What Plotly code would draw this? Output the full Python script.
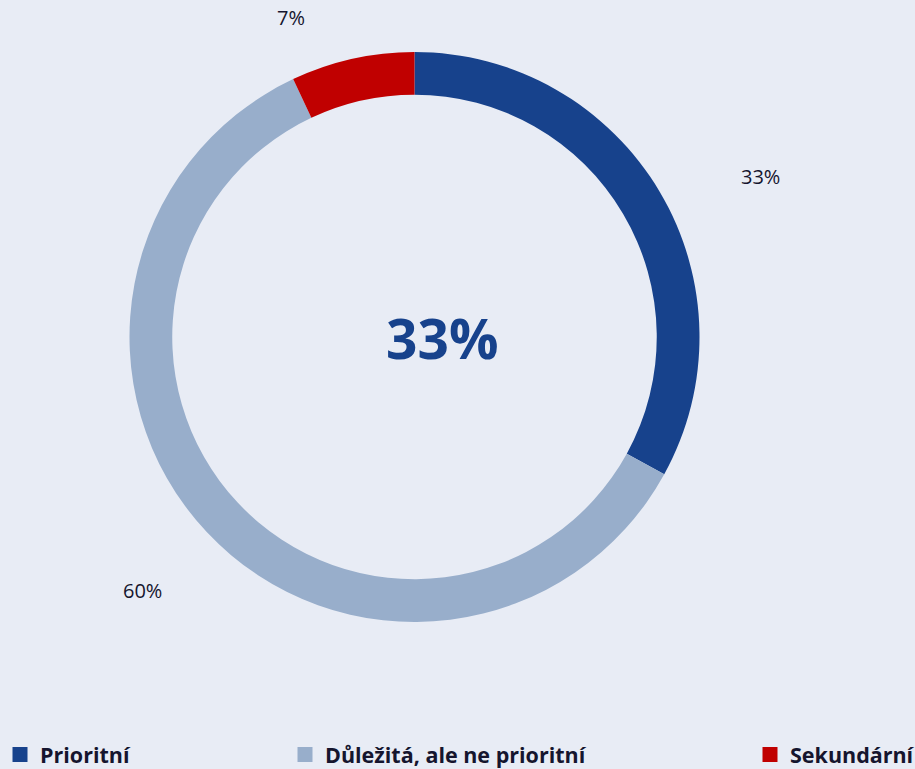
import math
import plotly.graph_objects as go

# Share of respondents by priority category
categories = ["Prioritní", "Důležitá, ale ne prioritní", "Sekundární"]
values = [33, 60, 7]
colors = ["#17428C", "#98AECB", "#C00000"]
center_label = "33%"

# Label placement around the ring: angular nudge (deg) and radius (px)
label_nudge_deg = [6.0, 0.0, -8.7]
label_radius_px = [381, 373, 341]

# Legend swatch centres (px from left)
legend_x_px = [20.0, 305.0, 770.0]

W, H = 915, 769
CX, CY, R = 414.5, 337.0, 285.0
BG = "#E8ECF5"
TEXT = "#15152E"
FONT = "Open Sans"

fig = go.Figure()

fig.add_trace(go.Pie(
    labels=categories,
    values=values,
    marker=dict(colors=colors, line=dict(width=0)),
    hole=0.85,
    sort=False,
    direction="clockwise",
    rotation=0,
    textinfo="none",
    hoverinfo="label+percent",
    showlegend=False,
    domain=dict(x=[(CX - R) / W, (CX + R) / W],
                y=[(H - CY - R) / H, (H - CY + R) / H]),
))

# Percentage labels placed outside the ring at each slice's mid-angle
total = sum(values)
cum = 0
annotations = []
for v, dth, rad in zip(values, label_nudge_deg, label_radius_px):
    mid = (cum + v / 2) / total * 360.0 + dth
    cum += v
    px = CX + rad * math.sin(math.radians(mid))
    py = CY - rad * math.cos(math.radians(mid)) - 2
    annotations.append(dict(
        x=px / W, y=1 - py / H, xref="paper", yref="paper",
        text=f"{round(v / total * 100)}%", showarrow=False,
        xanchor="center", yanchor="middle",
        font=dict(family=FONT, size=20, color=TEXT),
    ))

annotations.append(dict(
    x=442 / W, y=1 - 337 / H, xref="paper", yref="paper",
    text=f"<b>{center_label}</b>", showarrow=False,
    xanchor="center", yanchor="middle",
    font=dict(family=FONT, size=55, color=colors[0]),
))

# Legend entries, one legend per category so they can be spread across the bottom
legend_names = ["legend", "legend2", "legend3"]
for name, lab, col in zip(legend_names, categories, colors):
    fig.add_trace(go.Scatter(
        x=[None], y=[None], mode="markers", name=lab,
        marker=dict(symbol="square", size=15, color=col),
        legend=name, showlegend=True, hoverinfo="skip",
    ))

legend_common = dict(
    orientation="h", yanchor="middle", xanchor="left",
    xref="container", yref="container",
    y=1 - 754.5 / H, bgcolor="rgba(0,0,0,0)", borderwidth=0,
    font=dict(family=FONT, size=21.5, color=TEXT, weight="bold"),
)
layout_legends = {}
for name, xc in zip(legend_names, legend_x_px):
    layout_legends[name] = dict(legend_common, x=(xc - 20) / W)

fig.update_layout(
    width=W, height=H,
    margin=dict(l=0, r=0, t=0, b=0, autoexpand=False),
    paper_bgcolor=BG, plot_bgcolor=BG,
    xaxis=dict(visible=False), yaxis=dict(visible=False),
    annotations=annotations,
    **layout_legends,
)

fig.write_html("out.html")
